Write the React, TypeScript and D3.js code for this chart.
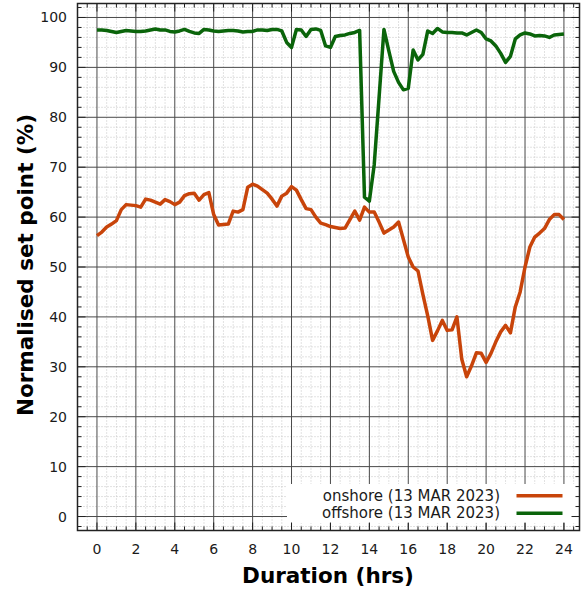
import React from "react";
import * as d3 from "d3";

// time axis in hours (15-minute samples)
const hours: number[] = d3.range(0, 24.001, 0.25);

const onshore: number[] = [
  56.3, 57.0, 58.0, 58.6, 59.3, 61.5, 62.5, 62.4, 62.3, 62.0, 63.6, 63.4,
  63.0, 62.6, 63.5, 63.1, 62.5, 63.0, 64.3, 64.7, 64.8, 63.4, 64.5, 64.9,
  60.5, 58.4, 58.5, 58.6, 61.2, 61.0, 61.5, 66.0, 66.6, 66.2, 65.5, 64.8,
  63.6, 62.2, 64.2, 64.8, 66.1, 65.4, 63.5, 61.7, 61.5, 60.0, 58.8, 58.5,
  58.1, 57.9, 57.7, 57.8, 59.5, 61.2, 59.4, 62.0, 61.0, 61.0, 59.0, 56.8,
  57.4, 58.0, 59.0, 55.5, 52.0, 50.0, 49.2, 44.5, 40.2, 35.3, 37.2, 39.3,
  37.3, 37.4, 40.0, 31.5, 28.0, 30.2, 32.8, 32.7, 30.9, 32.7, 35.0, 37.0,
  38.3, 36.8, 42.0, 45.0, 50.0, 54.0, 56.0, 56.8, 57.7, 59.5, 60.5, 60.5,
  59.5,
];

const offshore: number[] = [
  97.5, 97.5, 97.4, 97.2, 97.0, 97.2, 97.4, 97.3, 97.2, 97.2, 97.3, 97.5,
  97.7, 97.5, 97.5, 97.2, 97.1, 97.3, 97.6, 97.2, 96.9, 96.8, 97.6, 97.5,
  97.3, 97.2, 97.3, 97.4, 97.4, 97.3, 97.1, 97.2, 97.2, 97.5, 97.5, 97.4,
  97.6, 97.6, 97.3, 95.0, 94.0, 97.6, 97.5, 96.2, 97.6, 97.7, 97.4, 94.3,
  94.0, 96.2, 96.4, 96.5, 96.8, 97.0, 97.4, 64.0, 63.2, 70.5, 84.0, 97.6,
  93.3, 89.2, 87.0, 85.5, 85.8, 93.5, 91.5, 92.6, 97.3, 96.8, 97.8, 97.1,
  97.0, 97.0, 96.9, 96.9, 96.5, 97.0, 97.5, 97.0, 95.7, 95.3, 94.3, 92.8,
  91.0, 92.2, 95.7, 96.5, 96.9, 96.7, 96.3, 96.4, 96.3, 96.0, 96.5, 96.6,
  96.7,
];

const xTicks: number[] = [0, 2, 4, 6, 8, 10, 12, 14, 16, 18, 20, 22, 24];
const yTicks: number[] = [0, 10, 20, 30, 40, 50, 60, 70, 80, 90, 100];
const seriesNames: string[] = ["onshore (13 MAR 2023)", "offshore (13 MAR 2023)"];
const seriesColors: string[] = ["#c8440a", "#0a640a"];
const xTitle = "Duration (hrs)";
const yTitle = "Normalised set point (%)";

const W = 581;
const H = 594;
const L = 77.5;
const R = 579.5;
const T = 3.5;
const B = 530.5;
const FONT = "'DejaVu Sans', Verdana, sans-serif";

export default function App() {
  const x = d3.scaleLinear().domain([-1, 24.8]).range([L, R]);
  const y = d3.scaleLinear().domain([-2.8, 102.8]).range([B, T]);

  const minorX = d3.range(-1, 24.81, 0.5).filter((v) => Math.abs(v / 2 - Math.round(v / 2)) > 1e-6);
  const minorY = d3.range(-2, 102.1, 2).filter((v) => v % 10 !== 0);
  const tickX = d3.range(-0.5, 24.81, 0.5);
  const tickY = d3.range(-2, 102.1, 2);

  const line = d3
    .line<number>()
    .x((_, i) => x(hours[i]))
    .y((d) => y(d));

  const series = [onshore, offshore];

  return (
    <svg
      width={W}
      height={H}
      style={{ position: "absolute", left: 0, top: 0, background: "#fff" }}
    >
      <rect x={0} y={0} width={W} height={H} fill="#fff" />
      {/* minor grid */}
      {minorX.map((v) => (
        <line key={"mx" + v} x1={x(v)} x2={x(v)} y1={T} y2={B} stroke="#c4c4c4" strokeWidth={1} strokeDasharray="1,2" />
      ))}
      {minorY.map((v) => (
        <line key={"my" + v} x1={L} x2={R} y1={y(v)} y2={y(v)} stroke="#c4c4c4" strokeWidth={1} strokeDasharray="1,2" />
      ))}
      {/* major grid */}
      {xTicks.map((v) => (
        <line key={"gx" + v} x1={x(v)} x2={x(v)} y1={T} y2={B} stroke="#4a4a4a" strokeWidth={1} />
      ))}
      {yTicks.map((v) => (
        <line key={"gy" + v} x1={L} x2={R} y1={y(v)} y2={y(v)} stroke="#4a4a4a" strokeWidth={1} />
      ))}
      {/* series */}
      {series.map((s, i) => (
        <path key={"s" + i} d={line(s) || ""} fill="none" stroke={seriesColors[i]} strokeWidth={3.5} strokeLinejoin="round" />
      ))}
      {/* legend */}
      <rect x={287} y={484} width={R - 287} height={39} fill="#fff" />
      {seriesNames.map((n, i) => (
        <g key={"lg" + i}>
          <text x={500} y={500.5 + i * 17.5} textAnchor="end" fontFamily={FONT} fontSize={15} fill="#1a1a1a">
            {n}
          </text>
          <line x1={516.5} x2={562.5} y1={495.7 + i * 17.6} y2={495.7 + i * 17.6} stroke={seriesColors[i]} strokeWidth={3.5} />
        </g>
      ))}
      {/* ticks */}
      {tickX.map((v) => {
        const len = Math.abs(v / 2 - Math.round(v / 2)) < 1e-6 ? 8 : 4;
        return (
          <g key={"tx" + v}>
            <line x1={x(v)} x2={x(v)} y1={B} y2={B - len} stroke="#222" strokeWidth={1} />
            <line x1={x(v)} x2={x(v)} y1={T} y2={T + len} stroke="#222" strokeWidth={1} />
          </g>
        );
      })}
      {tickY.map((v) => {
        const len = v % 10 === 0 ? 8 : 4;
        return (
          <g key={"ty" + v}>
            <line x1={L} x2={L + len} y1={y(v)} y2={y(v)} stroke="#222" strokeWidth={1} />
            <line x1={R} x2={R - len} y1={y(v)} y2={y(v)} stroke="#222" strokeWidth={1} />
          </g>
        );
      })}
      {/* frame */}
      <rect x={L} y={T} width={R - L} height={B - T} fill="none" stroke="#222" strokeWidth={1.5} />
      {/* tick labels */}
      {xTicks.map((v) => (
        <text key={"lx" + v} x={x(v)} y={554} textAnchor="middle" fontFamily={FONT} fontSize={14} fill="#1a1a1a">
          {v}
        </text>
      ))}
      {yTicks.map((v) => (
        <text key={"ly" + v} x={67} y={y(v) + 5} textAnchor="end" fontFamily={FONT} fontSize={14} fill="#1a1a1a">
          {v}
        </text>
      ))}
      {/* titles */}
      <text x={328} y={583} textAnchor="middle" fontFamily={FONT} fontWeight="bold" fontSize={21.5} fill="#000">
        {xTitle}
      </text>
      <text
        transform={`translate(33,265) rotate(-90)`}
        textAnchor="middle"
        fontFamily={FONT}
        fontWeight="bold"
        fontSize={21.5}
        fill="#000"
      >
        {yTitle}
      </text>
    </svg>
  );
}
